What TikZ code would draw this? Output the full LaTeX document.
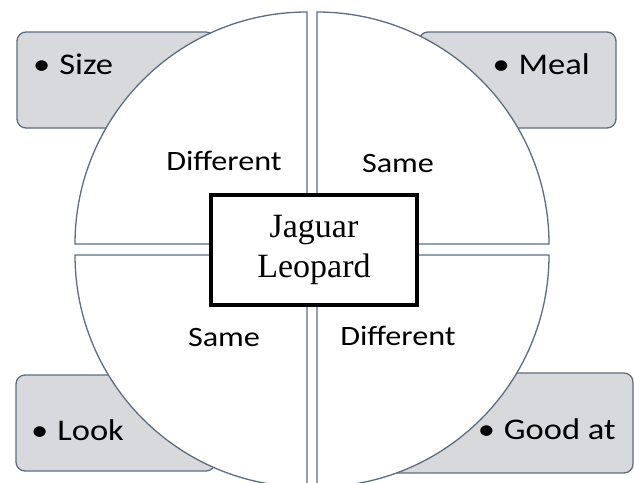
\documentclass[tikz,border=0pt]{standalone}
\usepackage{fontspec}
\usepackage{xcolor}
\usepackage{tikz}
\newfontfamily\labelfont[FakeStretch=1.15]{Carlito}
\newfontfamily\namefont{Liberation Serif}
\definecolor{boxgray}{RGB}{216,217,220}
\definecolor{edgegray}{RGB}{94,108,128}

\begin{document}
\begin{tikzpicture}[x=1pt, y=-1pt,
    part/.style={draw=edgegray, line width=1.3pt, fill=white},
    note/.style={draw=edgegray, line width=1.3pt, fill=boxgray, rectangle, rounded corners=9pt},
    word/.style={font=\labelfont\fontsize{28}{34}\selectfont, inner sep=0pt},
    item/.style={font=\labelfont\fontsize{30}{36}\selectfont, inner sep=0pt}]
    \useasboundingbox (0,0) rectangle (634,482);

    % Corner boxes
    \node[note, minimum width=198pt, minimum height=96pt] (size) at (116,80) {};
    \node[note, minimum width=197pt, minimum height=96pt] (meal) at (517.5,80) {};
    \node[note, minimum width=199pt, minimum height=96pt] (look) at (115.5,423) {};
    \node[note, minimum width=253pt, minimum height=100pt] (good) at (506.5,423) {};

    % Quarters
    \coordinate (tl) at (307,244);
    \coordinate (tr) at (317,244);
    \coordinate (bl) at (307,255);
    \coordinate (br) at (317,255);
    \draw[part] (tl) -- ++(-232,0) arc[start angle=180, end angle=270, radius=232] -- cycle;
    \draw[part] (tr) -- ++(0,-232) arc[start angle=270, end angle=360, radius=232] -- cycle;
    \draw[part] (br) -- ++(232,0) arc[start angle=0, end angle=90, radius=232] -- cycle;
    \draw[part] (bl) -- ++(0,232) arc[start angle=90, end angle=180, radius=232] -- cycle;

    % Centre
    \node[draw, line width=4pt, fill=white, minimum width=206pt, minimum height=110pt,
          align=center, font=\namefont\fontsize{34}{40}\selectfont] (animals) at (314,250) {Jaguar\\Leopard};

    % Labels
    \node[word, anchor=base] (diffA) at (224,170) {Different};
    \node[word, anchor=base] (sameA) at (398,172) {Same};
    \node[word, anchor=base] (sameB) at (224,346) {Same};
    \node[word, anchor=base] (diffB) at (398,345) {Different};
    \node[item, anchor=base west] (sizetxt) at (33,74) {\textbullet\hspace{0.3em}Size};
    \node[item, anchor=base east] (mealtxt) at (590,74) {\textbullet\hspace{0.3em}Meal};
    \node[item, anchor=base west] (looktxt) at (31,440) {\textbullet\hspace{0.3em}Look};
    \node[item, anchor=base east] (goodtxt) at (616,439) {\textbullet\hspace{0.3em}Good at};
\end{tikzpicture}
\end{document}
